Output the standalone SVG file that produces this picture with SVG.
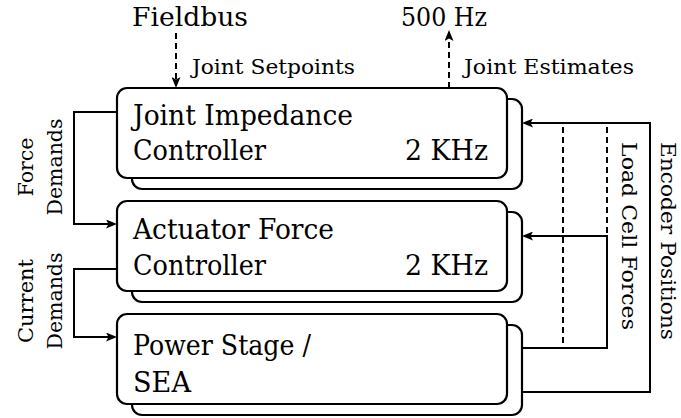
<svg xmlns="http://www.w3.org/2000/svg" width="681" height="418" viewBox="0 0 681 418">
<style>
text{font-family:"DejaVu Serif",serif;fill:#000}
.big{font-size:27px}
.mid{font-size:26px}
.sm{font-size:21px}
.sr{font-size:20px}
.back{fill:#fff;stroke:#000;stroke-width:2.2}
.front{fill:#fff;stroke:#000;stroke-width:2.2}
.ln{fill:none;stroke:#000;stroke-width:2}
.ds{fill:none;stroke:#000;stroke-width:2;stroke-dasharray:6 4}
</style>
<defs>
<marker id="ah" viewBox="0 0 11 9" refX="6" refY="4.5" markerWidth="11" markerHeight="9" markerUnits="userSpaceOnUse" orient="auto">
<path d="M0,0 L11,4.5 L0,9 L2.5,4.5 Z" fill="#000"/>
</marker>
</defs>

<g id="top-labels">
<text class="mid" x="132" y="26" textLength="116" lengthAdjust="spacingAndGlyphs">Fieldbus</text>
<text class="mid" x="401" y="26" textLength="86" lengthAdjust="spacingAndGlyphs">500 Hz</text>
<text class="sm" x="192" y="74" textLength="163" lengthAdjust="spacingAndGlyphs">Joint Setpoints</text>
<text class="sm" x="464" y="74" textLength="170" lengthAdjust="spacingAndGlyphs">Joint Estimates</text>
</g>

<g id="node-jic">
<rect class="back" x="132" y="99" width="390" height="90" rx="10"/>
<rect class="front" x="117" y="88" width="390" height="90" rx="10"/>
<text class="big" x="133" y="125" textLength="220" lengthAdjust="spacingAndGlyphs">Joint Impedance</text>
<text class="big" x="133" y="160" textLength="133" lengthAdjust="spacingAndGlyphs">Controller</text>
<text class="big" x="405" y="160" textLength="83" lengthAdjust="spacingAndGlyphs">2 KHz</text>
</g>

<g id="node-afc">
<rect class="back" x="132" y="212" width="390" height="90" rx="10"/>
<rect class="front" x="117" y="201" width="390" height="90" rx="10"/>
<text class="big" x="133" y="239" textLength="201" lengthAdjust="spacingAndGlyphs">Actuator Force</text>
<text class="big" x="133" y="275" textLength="133" lengthAdjust="spacingAndGlyphs">Controller</text>
<text class="big" x="405" y="275" textLength="83" lengthAdjust="spacingAndGlyphs">2 KHz</text>
</g>

<g id="node-ps">
<rect class="back" x="132" y="325" width="390" height="90" rx="10"/>
<rect class="front" x="117" y="314" width="390" height="90" rx="10"/>
<text class="big" x="133" y="355" textLength="178" lengthAdjust="spacingAndGlyphs">Power Stage /</text>
<text class="big" x="133" y="392" textLength="58" lengthAdjust="spacingAndGlyphs">SEA</text>
</g>

<g id="connectors">
<path class="ds" d="M176,33 V83" marker-end="url(#ah)"/>
<path class="ds" d="M449,88 V35" marker-end="url(#ah)"/>
<path class="ln" d="M117,112 H74 V224 H112" marker-end="url(#ah)"/>
<path class="ln" d="M117,269 H74 V337 H112" marker-end="url(#ah)"/>
<path class="ln" d="M522,392 H650 V123 H527" marker-end="url(#ah)"/>
<path class="ln" d="M522,348 H607 V236 H527" marker-end="url(#ah)"/>
<path class="ds" d="M563,127 V348"/>
<path class="ds" d="M607,127 V236"/>
</g>

<g id="side-labels">
<text class="sm" transform="translate(33,167) rotate(-90)" text-anchor="middle" textLength="59" lengthAdjust="spacingAndGlyphs">Force</text>
<text class="sm" transform="translate(62,167) rotate(-90)" text-anchor="middle" textLength="97" lengthAdjust="spacingAndGlyphs">Demands</text>
<text class="sm" transform="translate(33,301) rotate(-90)" text-anchor="middle" textLength="84" lengthAdjust="spacingAndGlyphs">Current</text>
<text class="sm" transform="translate(62,301) rotate(-90)" text-anchor="middle" textLength="97" lengthAdjust="spacingAndGlyphs">Demands</text>
<text class="sr" transform="translate(622,142) rotate(90)" textLength="188" lengthAdjust="spacingAndGlyphs">Load Cell Forces</text>
<text class="sr" transform="translate(661,142) rotate(90)" textLength="198" lengthAdjust="spacingAndGlyphs">Encoder Positions</text>
</g>
</svg>
